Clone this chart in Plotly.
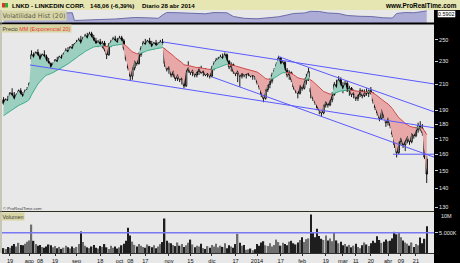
import math
import pandas as pd
import plotly.graph_objects as go

W, H = 460, 263

# ---------------- data ----------------
HOLIDAYS = ["2013-09-02", "2013-11-28", "2013-12-25", "2014-01-01",
            "2014-01-20", "2014-02-17", "2014-04-18"]
dates = [d for d in pd.bdate_range("2013-07-16", "2014-04-28")
         if d.strftime("%Y-%m-%d") not in HOLIDAYS]

opens = [198, 195, 198, 197,
         203, 201, 198, 202, 205, 202, 200, 205,
         206,
         232,
         236, 233, 238, 235, 231, 236, 234, 230, 228, 224,
         227, 231, 229, 234, 232, 237, 240, 238, 243, 241,
         246, 248, 250, 246, 252, 254, 251, 256, 252, 249,
         246, 248, 245, 247, 241, 236, 245, 248, 251, 249,
         247, 252, 249, 242, 232, 224, 217, 224, 231, 228,
         236, 242, 247, 245, 249, 246, 243, 247, 244, 246,
         248, 240, 228, 223, 226, 218, 222, 215, 219, 214,
         216, 209, 222, 225, 220, 223, 218, 221, 224, 220,
         222, 218, 220, 217, 224, 228, 231, 232, 234, 232,
         236, 230, 225, 227, 221, 219, 222, 217, 220, 218,
         219, 220, 217, 218, 217, 212, 208, 202, 199, 206,
         210, 213, 218, 222, 227, 233, 227, 229, 222, 218,
         220, 214, 208, 205, 203, 210, 207, 213, 216, 207,
         204, 199, 196, 192, 190, 188, 194, 197, 194, 198,
         202, 210, 207, 214, 209, 206, 211, 205, 207, 202,
         204, 199, 202, 205, 201, 204, 203, 205, 203, 197,
         192, 188, 184, 191, 186, 181, 185, 179, 173, 166,
         161, 168, 171, 166, 169, 172, 168, 174, 172, 176,
         179, 177, 174, 157]

highs = [200, 199, 201, 204,
         207, 204, 203, 206, 207, 204, 206, 208,
         212,
         240,
         238, 239, 241, 237, 237, 240, 236, 233, 229, 229,
         232, 234, 235, 236, 238, 242, 243, 244, 246, 247,
         250, 252, 254, 253, 256, 257, 258, 258, 255, 252,
         250, 251, 249, 249, 242, 247, 250, 253, 254, 252,
         254, 254, 251, 243, 234, 226, 226, 233, 235, 238,
         244, 249, 251, 250, 252, 249, 248, 250, 248, 250,
         251, 242, 232, 228, 227, 224, 224, 221, 222, 218,
         217, 224, 230, 226, 225, 224, 223, 225, 226, 223,
         224, 222, 222, 226, 230, 233, 234, 236, 237, 238,
         237, 231, 229, 228, 224, 224, 224, 222, 223, 221,
         222, 222, 220, 219, 218, 214, 210, 204, 208, 212,
         215, 220, 224, 229, 235, 234, 231, 230, 224, 222,
         221, 216, 211, 208, 212, 213, 215, 219, 224, 211,
         207, 203, 199, 195, 194, 196, 199, 199, 200, 204,
         212, 214, 217, 216, 212, 213, 213, 209, 208, 206,
         205, 204, 207, 206, 206, 207, 206, 208, 204, 199,
         195, 192, 193, 193, 188, 187, 186, 181, 176, 169,
         170, 173, 172, 171, 174, 173, 175, 177, 178, 181,
         182, 180, 175, 159]

lows = [194, 194, 196, 196,
        200, 197, 197, 201, 201, 199, 199, 203,
        205,
        229,
        231, 232, 234, 230, 230, 233, 229, 226, 222, 222,
        225, 228, 228, 230, 231, 235, 236, 237, 239, 240,
        244, 245, 244, 245, 249, 250, 250, 251, 247, 244,
        243, 244, 242, 239, 232, 235, 243, 246, 247, 245,
        246, 247, 240, 230, 222, 213, 214, 222, 226, 227,
        234, 240, 243, 243, 244, 241, 241, 243, 242, 244,
        245, 225, 221, 219, 216, 216, 213, 213, 212, 210,
        207, 208, 220, 218, 217, 216, 216, 218, 219, 217,
        217, 216, 215, 216, 222, 226, 228, 229, 230, 231,
        228, 223, 221, 219, 217, 212, 208, 215, 216, 215,
        217, 216, 214, 214, 210, 206, 200, 196, 198, 204,
        207, 211, 216, 220, 225, 225, 223, 220, 216, 214,
        212, 206, 203, 199, 202, 205, 206, 210, 213, 199,
        197, 194, 190, 187, 185, 187, 192, 192, 193, 196,
        201, 205, 206, 207, 203, 205, 204, 201, 200, 199,
        197, 197, 200, 199, 200, 201, 200, 202, 195, 190,
        186, 182, 183, 184, 178, 179, 177, 171, 164, 158,
        160, 166, 164, 162, 167, 166, 167, 170, 171, 174,
        175, 172, 157, 143]

closes = [195, 198, 197, 203,
          201, 198, 202, 205, 202, 200, 205, 206,
          211,
          236,
          233, 238, 235, 231, 236, 234, 230, 228, 224, 227,
          231, 229, 234, 232, 237, 240, 238, 243, 241, 246,
          248, 250, 246, 252, 254, 251, 256, 252, 249, 246,
          248, 245, 247, 241, 236, 245, 248, 251, 249, 247,
          252, 249, 242, 232, 224, 217, 224, 231, 228, 236,
          242, 247, 245, 249, 246, 243, 247, 244, 246, 248,
          247, 228, 223, 226, 218, 222, 215, 219, 214, 216,
          209, 222, 225, 220, 223, 218, 221, 224, 220, 222,
          218, 220, 217, 224, 228, 231, 232, 234, 232, 236,
          230, 225, 227, 221, 219, 222, 217, 220, 218, 219,
          220, 217, 218, 217, 212, 208, 202, 199, 206, 210,
          213, 218, 222, 227, 233, 227, 229, 222, 218, 220,
          214, 208, 205, 203, 210, 207, 213, 216, 221, 204,
          199, 196, 192, 190, 188, 194, 197, 194, 198, 202,
          210, 207, 214, 209, 206, 211, 205, 207, 202, 204,
          199, 202, 205, 201, 204, 203, 205, 203, 197, 192,
          188, 184, 191, 186, 181, 185, 179, 173, 166, 161,
          168, 171, 166, 169, 172, 168, 174, 172, 176, 179,
          177, 174, 158.16, 148.06]

volume_m = [1.2, 1.0, 1.5, 1.3,
            1.8, 2.2, 1.6, 2.5, 2.0, 1.9, 2.3, 2.8,
            3.1,
            7.0,
            3.0, 2.2, 1.8, 2.0, 1.5, 1.3, 1.6, 2.1, 1.9, 1.4,
            1.7, 1.2, 1.5, 1.0, 1.3, 1.8, 1.4, 1.1, 1.6, 1.2, 1.5, 2.2,
            5.3, 2.7,
            1.8, 1.4, 1.2, 1.6, 2.0, 1.3, 1.1, 1.7, 1.5, 2.2, 1.4, 1.0, 1.8,
            1.3, 1.6, 1.1, 1.4, 1.9, 2.3,
            3.0, 6.2, 4.3, 2.8,
            2.0, 1.6, 2.2, 1.8, 1.5, 1.3, 2.1, 1.7, 1.4, 1.9, 1.2, 1.6, 2.2,
            2.7, 8.5, 3.0, 2.5,
            2.4, 2.0, 1.7, 2.6, 1.8, 2.2, 1.5, 1.9, 2.5, 3.3, 2.1, 1.4, 1.8,
            1.6, 2.3, 1.2, 1.0, 1.7, 1.3,
            2.0, 1.6, 2.3, 1.4, 1.8, 1.5, 2.4, 1.2, 1.9, 1.6, 1.3, 2.2,
            4.75, 2.5,
            1.8, 2.0, 0.8, 0.9, 1.1, 0.7, 0.9,
            2.2, 1.8, 2.6, 2.9, 1.9, 1.7, 2.4, 1.6, 2.0, 3.3, 2.7, 1.8, 2.5,
            2.2, 1.9, 2.8, 3.0, 2.4, 2.1, 2.6, 3.2, 3.9, 2.7, 3.4, 3.6,
            9.5,
            5.2, 3.9, 6.0, 4.2, 3.5, 3.2, 4.3, 3.1, 3.6, 2.9,
            5.0,
            3.1, 2.4, 2.8, 1.9, 2.2, 1.6, 2.0, 1.4, 1.8, 2.3, 1.5, 1.2, 1.9,
            2.6, 2.1, 1.7, 2.4, 3.0, 2.5,
            4.1,
            3.2, 2.5, 2.8, 3.3, 2.9, 3.0, 3.6,
            5.2, 4.6, 5.0,
            3.9, 3.1, 2.6, 2.3, 1.8, 2.6, 1.5, 2.2, 1.9, 3.8, 2.4,
            3.5, 6.6]

# Historical volatility (20) (bar position, value)
vola_bar = [0, 4, 9, 15, 22, 27, 32, 33, 38, 45, 52, 57, 61, 67, 72, 74, 76,
            82, 89, 94, 98, 104, 107, 112, 118, 124, 128, 132, 135, 140, 143,
            147, 151, 156, 160, 166, 171, 177, 181, 183, 187, 191, 194, 197]
vola_val = [0.507, 0.497, 0.507, 0.517, 0.513, 0.53, 0.53, 0.281, 0.303, 0.313,
            0.329, 0.345, 0.378, 0.368, 0.352, 0.458, 0.539, 0.53, 0.517, 0.497,
            0.539, 0.53, 0.41, 0.352, 0.336, 0.378, 0.40, 0.458, 0.507, 0.523,
            0.578, 0.571, 0.523, 0.507, 0.442, 0.416, 0.41, 0.368, 0.36, 0.507,
            0.539, 0.53, 0.555, 0.5902]

EMA_PERIOD = 20
EMA_SEED = 186  # EMA level at the first visible bar

# hand-drawn trend lines: (bar start, price start, bar end, price end)
trend_bar0 = [74.2, 127.8, 12.3, 97.0, 181.3]
trend_p0 = [248.0, 234.4, 226.7, 216.4, 160.0]
trend_bar1 = [200.4, 200.4, 200.4, 200.4, 200.4]
trend_p1 = [210.5, 188.8, 177.4, 158.2, 160.0]

tick_dates = ["2013-07-19", "2013-08-01", "2013-08-08", "2013-08-19", "2013-09-03",
              "2013-09-18", "2013-10-01", "2013-10-08", "2013-10-17", "2013-11-01",
              "2013-11-15", "2013-12-02", "2013-12-17", "2014-01-02", "2014-01-17",
              "2014-02-03", "2014-02-19", "2014-03-03", "2014-03-11", "2014-03-20",
              "2014-04-01", "2014-04-09", "2014-04-21"]
tick_labels = ["19", "ago", "08", "19", "sep", "18", "oct", "08", "17", "nov",
               "15", "dic", "17", "2014", "17", "feb", "19", "mar", "11", "20",
               "abr", "09", "21"]
price_ticks = [130, 140, 150, 160, 170, 180, 190, 210, 230, 250]

# ---------------- helpers ----------------
N = len(dates)
bars = list(range(N))
date_idx = {d.strftime("%Y-%m-%d"): i for i, d in enumerate(dates)}
tick_pos = [date_idx[d] for d in tick_dates]


def pxx(p):
    return p / W


def pxy(p):
    return 1 - p / H


X_DOM = [pxx(2), pxx(434)]
X_RANGE = [-0.72, 200.4]

# EMA
k = 2 / (EMA_PERIOD + 1)
ema = [EMA_SEED]
for c in closes[1:]:
    ema.append(ema[-1] + k * (c - ema[-1]))

fig = go.Figure()

# volatility panel
fig.add_trace(go.Scatter(x=vola_bar, y=vola_val, mode="lines", fill="tozeroy",
                         line=dict(color="#6c6ca8", width=1), fillcolor="#acacd6",
                         xaxis="x", yaxis="y3", hoverinfo="skip"))

# EMA fill between close and EMA
lc = [math.log(c) for c in closes]
le = [math.log(e) for e in ema]
diff = [a - b for a, b in zip(lc, le)]
runs = []
cur = {"up": diff[0] >= 0, "pts": [(0, closes[0], ema[0])]}
for i in range(1, N):
    s = diff[i] >= 0
    if s != cur["up"]:
        t = diff[i - 1] / (diff[i - 1] - diff[i])
        xc = (i - 1) + t
        yc = math.exp(lc[i - 1] + t * (lc[i] - lc[i - 1]))
        cur["pts"].append((xc, yc, yc))
        runs.append(cur)
        cur = {"up": s, "pts": [(xc, yc, yc)]}
    cur["pts"].append((i, closes[i], ema[i]))
runs.append(cur)

for r in runs:
    xs = [p[0] for p in r["pts"]]
    yc_ = [p[1] for p in r["pts"]]
    ye_ = [p[2] for p in r["pts"]]
    fc = "#9dcfc0" if r["up"] else "#e8a8a8"
    fig.add_trace(go.Scatter(x=xs + xs[::-1], y=yc_ + ye_[::-1], mode="lines",
                             fill="toself", fillcolor=fc, line=dict(width=0),
                             xaxis="x", yaxis="y2", hoverinfo="skip"))
for r in runs:
    xs = [p[0] for p in r["pts"]]
    ye_ = [p[2] for p in r["pts"]]
    lcol = "#3caf8a" if r["up"] else "#d24a4a"
    fig.add_trace(go.Scatter(x=xs, y=ye_, mode="lines", line=dict(color=lcol, width=1),
                             xaxis="x", yaxis="y2", hoverinfo="skip"))

# candles
fig.add_trace(go.Candlestick(x=bars, open=opens, high=highs, low=lows, close=closes,
                             increasing=dict(line=dict(color="#000000", width=0.9),
                                             fillcolor="#ffffff"),
                             decreasing=dict(line=dict(color="#000000", width=0.9),
                                             fillcolor="#000000"),
                             whiskerwidth=0, xaxis="x", yaxis="y2", hoverinfo="skip"))

# trend lines
for b0, p0, b1, p1 in zip(trend_bar0, trend_p0, trend_bar1, trend_p1):
    fig.add_trace(go.Scatter(x=[b0, b1], y=[p0, p1], mode="lines",
                             line=dict(color="#5a5aff", width=1),
                             xaxis="x", yaxis="y2", hoverinfo="skip"))

# volume
vcol = ["#6e6e6e" if c >= o else "#1e1e1e" for o, c in zip(opens, closes)]
fig.add_trace(go.Bar(x=bars, y=volume_m, marker=dict(color=vcol, line=dict(width=0)),
                     xaxis="x", yaxis="y", hoverinfo="skip"))
fig.add_trace(go.Scatter(x=[X_RANGE[0], X_RANGE[1]], y=[5, 5], mode="lines",
                         line=dict(color="#7878f4", width=1.5),
                         xaxis="x", yaxis="y", hoverinfo="skip"))

FONT = "Liberation Sans, Arial, sans-serif"
axis_font = dict(size=5.5, color="#e6e6e6", family=FONT)

shapes = [
    dict(type="rect", xref="paper", yref="paper", x0=0, x1=1, y0=pxy(10), y1=1,
         fillcolor="#e6e6b2", line=dict(width=0), layer="below"),
    dict(type="rect", xref="paper", yref="paper", x0=pxx(434), x1=1, y0=0, y1=pxy(10),
         fillcolor="#000000", line=dict(width=0), layer="below"),
    dict(type="line", xref="paper", yref="paper", x0=0, x1=pxx(434), y0=pxy(23.5), y1=pxy(23.5),
         line=dict(color="#000000", width=2)),
    dict(type="line", xref="paper", yref="paper", x0=0, x1=pxx(434), y0=pxy(211.5), y1=pxy(211.5),
         line=dict(color="#303020", width=1)),
    dict(type="line", xref="paper", yref="paper", x0=pxx(1), x1=pxx(1), y0=pxy(253), y1=pxy(10),
         line=dict(color="#a4a488", width=1)),
    dict(type="rect", xref="paper", yref="paper", x0=pxx(2), x1=pxx(5), y0=pxy(7.5), y1=pxy(3),
         fillcolor="#e03030", line=dict(width=0)),
    dict(type="rect", xref="paper", yref="paper", x0=pxx(5), x1=pxx(8), y0=pxy(7.5), y1=pxy(3),
         fillcolor="#30b030", line=dict(width=0)),
]


def ann(text, x, y, size, color="#000000", xanchor="left", yanchor="middle", family=FONT, **kw):
    d = dict(text=text, x=pxx(x), y=pxy(y), xref="paper", yref="paper",
             xanchor=xanchor, yanchor=yanchor, showarrow=False,
             font=dict(size=size, color=color, family=family))
    d.update(kw)
    return d


annotations = [
    ann("<b>LNKD - LINKEDIN CORP.</b>", 9.5, 5.2, 6.2),
    ann("<b>148,06 (-6,39%)</b>", 88, 5.2, 6.2),
    ann("<b>Diario</b>", 140, 5.2, 6.2),
    ann("<b>28 abr 2014</b>", 159, 5.2, 6.2),
    ann("<b>www.ProRealTime.com</b>", 458.5, 5.2, 6.4, xanchor="right"),
    ann("Volatilidad Hist (20)", 1, 10.2, 6.4, color="#5a5a50", yanchor="top",
        bgcolor="#d8d5a4", borderpad=0.5, family="DejaVu Sans, sans-serif"),
    ann("Precio <span style='color:#e23a3a'>MM (Exponencial 20)</span>", 1, 24.2, 5.4,
        color="#404040", yanchor="top", bgcolor="#d8d5a4", borderpad=0.5),
    ann("Volumen", 1, 212.2, 5.4, color="#404040", yanchor="top",
        bgcolor="#d8d5a4", borderpad=0.5),
    ann("© ProRealTime.com", 1, 208, 4.3, color="#404040"),
    ann("0.5902", 436.5, 13.8, 5.4, color="#000000", bgcolor="#ffffff",
        bordercolor="#000000", borderwidth=0.6, borderpad=0.5),
    ann("10M", 439, 215.5, 5.5, color="#e6e6e6"),
]

fig.update_layout(
    width=W, height=H, margin=dict(l=0, r=0, t=0, b=0),
    paper_bgcolor="#e8e8e8", plot_bgcolor="rgba(0,0,0,0)",
    showlegend=False, font=dict(family=FONT), bargap=0.35, boxgap=0.12,
    xaxis=dict(domain=X_DOM, range=X_RANGE, anchor="y", showgrid=False, zeroline=False,
               tickmode="array", tickvals=tick_pos, ticktext=tick_labels,
               ticks="outside", ticklen=2, tickcolor="#303030",
               tickfont=dict(size=5.6, color="#101010", family=FONT),
               showline=True, linecolor="#303030", linewidth=1,
               rangeslider=dict(visible=False), fixedrange=True),
    yaxis=dict(domain=[pxy(253), pxy(212)], range=[0, 10.1], side="right", anchor="x",
               tickmode="array", tickvals=[5], ticktext=["5.000K"],
               ticks="outside", ticklen=3, tickcolor="#cfcfcf", tickfont=axis_font,
               showgrid=False, zeroline=False, showline=False, fixedrange=True),
    yaxis2=dict(domain=[pxy(211), pxy(24)], type="log",
                range=[math.log10(128.2), math.log10(266)], side="right", anchor="x",
                tickmode="array", tickvals=price_ticks, ticktext=[str(v) for v in price_ticks],
                ticks="outside", ticklen=3, tickcolor="#cfcfcf", tickfont=axis_font,
                showgrid=False, zeroline=False, showline=False, fixedrange=True),
    yaxis3=dict(domain=[pxy(23), pxy(10)], range=[0.2, 0.62], anchor="x",
                showticklabels=False, ticks="", showgrid=False, zeroline=False,
                showline=False, fixedrange=True),
    shapes=shapes, annotations=annotations,
)

fig.write_html("out.html", config={"displayModeBar": False})
